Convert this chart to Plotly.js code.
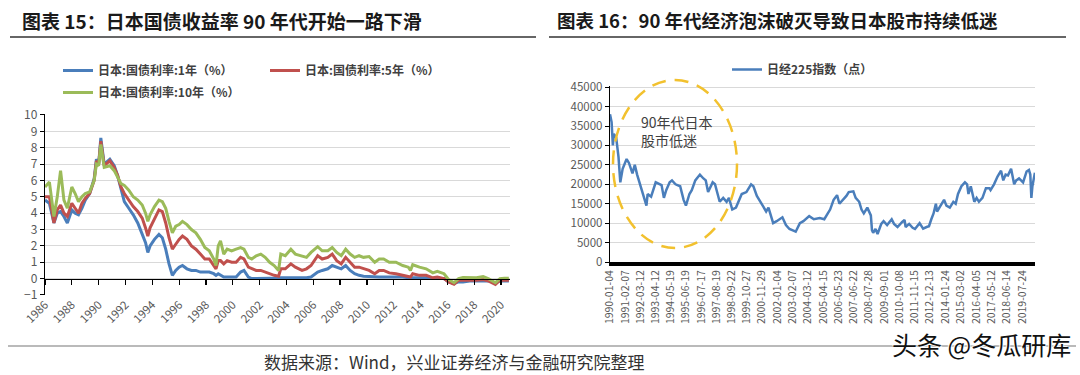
<!DOCTYPE html>
<html><head><meta charset="utf-8">
<script src="https://cdn.plot.ly/plotly-3.0.1.min.js"></script>
<style>html,body{margin:0;padding:0;background:#fff;} #chart{width:1080px;height:375px;}</style>
</head><body><div id="chart"></div>
<script>
// ---- Left chart: JGB yields (%) ----
const yieldDates = ['1986-01','1986-05','1986-09','1986-12','1987-03','1987-06','1987-09','1988-01','1988-04','1988-07','1988-10','1989-01','1989-05','1989-09','1989-11','1990-01','1990-03','1990-06','1990-11','1991-03','1991-06','1991-09','1991-12','1992-04','1992-08','1992-12','1993-04','1993-07','1993-09','1993-11','1994-03','1994-07','1994-10','1995-01','1995-04','1995-07','1995-10','1996-01','1996-04','1996-08','1996-12','1997-04','1997-08','1997-12','1998-04','1998-08','1998-10','1998-12','1999-02','1999-05','1999-08','1999-12','2000-04','2000-08','2000-11','2001-03','2001-06','2001-10','2002-02','2002-06','2002-10','2003-02','2003-06','2003-08','2003-12','2004-05','2004-09','2005-03','2005-07','2005-11','2006-05','2006-09','2007-02','2007-06','2007-10','2008-02','2008-06','2008-10','2009-02','2009-06','2009-10','2010-03','2010-08','2010-12','2011-04','2011-09','2012-03','2012-09','2013-02','2013-04','2013-06','2013-12','2014-06','2014-12','2015-04','2015-10','2016-02','2016-07','2016-11','2017-03','2017-09','2018-03','2018-09','2019-02','2019-08','2019-12','2020-04','2020-08'];
const jgb1y  = [4.8,4.6,3.4,4.0,4.1,3.8,3.4,4.2,4.0,3.9,4.3,4.8,5.2,6.1,7.3,7.0,8.6,7.0,7.3,6.9,6.3,5.4,4.7,4.3,3.9,3.4,2.7,2.2,1.6,2.0,2.4,2.7,2.5,1.8,0.9,0.2,0.5,0.7,0.8,0.6,0.5,0.5,0.4,0.4,0.4,0.3,0.2,0.3,0.2,0.1,0.1,0.1,0.1,0.4,0.5,0.1,0.0,0.0,0.02,0.02,0.02,0.02,0.01,0.05,0.05,0.05,0.05,0.05,0.05,0.1,0.4,0.5,0.6,0.8,0.7,0.6,0.8,0.5,0.3,0.2,0.15,0.12,0.1,0.1,0.1,0.1,0.1,0.1,0.05,0.05,0.05,0.05,0.05,0.0,0.0,0.0,-0.2,-0.3,-0.2,-0.2,-0.15,-0.15,-0.12,-0.15,-0.25,-0.15,-0.15,-0.15];
const jgb5y  = [5.0,5.0,3.4,4.2,4.5,4.0,3.8,4.6,4.3,4.0,4.6,4.9,5.2,6.0,7.2,7.0,8.4,6.9,7.2,6.8,6.3,5.6,5.2,4.8,4.4,4.1,3.7,3.1,2.6,3.1,3.7,4.2,4.1,3.4,2.5,1.8,2.1,2.4,2.6,2.4,2.0,1.8,1.5,1.2,1.2,0.8,0.6,1.1,1.1,0.9,1.1,1.0,1.0,1.3,1.2,0.7,0.6,0.5,0.5,0.4,0.3,0.2,0.15,0.6,0.6,0.9,0.7,0.5,0.6,0.8,1.4,1.2,1.3,1.5,1.1,0.9,1.3,1.0,0.7,0.7,0.6,0.5,0.3,0.5,0.5,0.35,0.3,0.2,0.15,0.1,0.3,0.2,0.2,0.05,0.1,0.0,-0.2,-0.35,-0.1,-0.1,-0.1,-0.1,-0.05,-0.15,-0.35,-0.1,-0.1,-0.1];
const jgb10y = [5.6,5.9,3.8,5.0,6.6,4.8,4.3,5.6,5.2,4.7,5.0,5.2,5.3,6.0,7.0,6.9,8.2,6.8,6.9,6.6,6.2,5.8,5.7,5.4,5.0,4.8,4.5,4.0,3.5,3.9,4.4,4.8,4.7,4.3,3.5,2.8,3.2,3.3,3.5,3.3,3.0,2.8,2.4,1.9,1.7,1.2,0.8,2.0,2.3,1.5,1.8,1.7,1.8,1.9,1.8,1.3,1.2,1.4,1.5,1.3,1.0,0.8,0.5,1.5,1.4,1.8,1.5,1.4,1.3,1.6,1.95,1.7,1.7,1.9,1.6,1.4,1.8,1.5,1.3,1.4,1.3,1.35,1.0,1.2,1.2,1.0,1.0,0.8,0.7,0.5,0.85,0.7,0.6,0.35,0.45,0.3,-0.05,-0.25,0.0,0.07,0.05,0.05,0.12,-0.02,-0.25,0.0,0.02,0.03];
const yieldNames = ['日本:国债利率:1年（%）','日本:国债利率:5年（%）','日本:国债利率:10年（%）'];
const yieldTicks = [-1,0,1,2,3,4,5,6,7,8,9,10];

// ---- Right chart: Nikkei 225 (points) ----
const nikkeiDates = ['1990-01-04','1990-02-15','1990-03-20','1990-04-15','1990-06-15','1990-08-15','1990-10-01','1990-12-01','1991-03-15','1991-05-15','1991-08-15','1991-10-15','1991-12-15','1992-03-15','1992-05-15','1992-08-15','1992-09-15','1992-12-15','1993-04-15','1993-07-15','1993-09-15','1993-11-15','1994-01-15','1994-04-15','1994-06-15','1994-09-15','1995-01-15','1995-04-15','1995-06-15','1995-09-15','1995-11-15','1996-02-15','1996-06-15','1996-09-15','1996-11-15','1997-01-15','1997-05-15','1997-07-15','1997-09-15','1997-11-15','1998-02-15','1998-05-15','1998-07-15','1998-10-10','1999-01-15','1999-06-15','1999-10-15','2000-02-15','2000-04-15','2000-07-15','2000-12-15','2001-03-15','2001-05-15','2001-09-15','2001-12-15','2002-05-15','2002-08-15','2002-11-15','2003-03-15','2003-04-28','2003-08-15','2003-11-15','2004-04-15','2004-08-15','2005-01-15','2005-05-15','2005-08-15','2005-10-15','2006-01-15','2006-04-15','2006-06-15','2006-09-15','2006-12-15','2007-02-15','2007-06-15','2007-08-15','2007-11-15','2008-01-15','2008-03-15','2008-06-15','2008-09-15','2008-10-15','2008-11-15','2009-01-15','2009-03-10','2009-06-15','2009-08-15','2009-11-15','2010-03-15','2010-05-15','2010-08-15','2010-12-15','2011-02-15','2011-03-15','2011-06-15','2011-09-15','2011-11-15','2012-03-15','2012-06-15','2012-09-15','2012-11-15','2013-01-15','2013-03-15','2013-05-15','2013-06-15','2013-09-15','2013-12-15','2014-02-15','2014-05-15','2014-08-15','2014-10-15','2014-12-15','2015-03-15','2015-06-15','2015-08-10','2015-09-15','2015-11-15','2016-02-15','2016-04-15','2016-06-15','2016-09-15','2016-12-15','2017-03-15','2017-04-15','2017-07-15','2017-10-15','2017-12-15','2018-01-15','2018-03-15','2018-05-15','2018-07-15','2018-09-15','2018-10-05','2018-12-25','2019-02-15','2019-05-01','2019-08-15','2019-11-15','2020-01-15','2020-02-20','2020-03-19','2020-04-15','2020-05-30','2020-06-20'];
const nikkei = [38000,36000,30000,33000,32000,27000,20500,24000,26500,25500,22800,25000,22500,19500,17500,14500,17500,16800,20500,20000,19800,16500,18500,20500,21000,20000,19500,16000,14500,17500,18500,21000,22500,21500,21000,18000,20500,20000,18000,15500,16500,15500,16500,13500,14000,17500,18000,20000,19500,17000,14500,13000,14000,10000,10500,11500,9500,8500,8000,7800,10000,10500,11800,11000,11300,11000,12500,13500,16000,17200,15000,16000,17000,18000,18200,16500,15500,13500,12500,14000,12000,8200,7500,8500,7200,9800,10500,9500,11000,9800,9000,10300,10800,9000,9800,8800,8500,10000,8600,9000,9200,11000,12500,15000,13000,14500,16000,14500,14000,15500,15000,17500,19500,20500,20000,17500,19500,15500,16500,15500,16500,19000,19000,18500,20000,22000,22800,23500,21000,22500,22300,23500,24000,20000,21000,21500,20500,23300,23700,22500,16500,19500,22000,23000];
const nikkeiTickLabels = ['1990-01-04','1991-02-07','1992-03-12','1993-04-12','1994-05-19','1995-06-19','1996-07-17','1997-08-19','1998-09-22','1999-10-27','2000-11-29','2002-01-04','2003-02-07','2004-03-12','2005-04-15','2006-05-23','2007-06-22','2008-07-28','2009-09-01','2010-10-08','2011-11-15','2012-12-13','2014-01-24','2015-03-02','2016-04-05','2017-05-12','2018-06-14','2019-07-24'];
const nikkeiName = '日经225指数（点）';

const W = 1080, H = 375;
const px = x => x / W;
const py = y => 1 - y / H;
const CJK = '"Noto Sans CJK SC", "Noto Sans", sans-serif';
const grid = '#D9D9D9';
const colors = {blue: '#4A7EBB', red: '#C0504D', green: '#9BBB59', nk: '#4A7EBB'};

const traces = [
  {x: yieldDates, y: jgb1y, name: yieldNames[0], type: 'scatter', mode: 'lines', line: {color: colors.blue, width: 3}, xaxis: 'x', yaxis: 'y', legend: 'legend', showlegend: true},
  {x: yieldDates, y: jgb5y, name: yieldNames[1], type: 'scatter', mode: 'lines', line: {color: colors.red, width: 3}, xaxis: 'x', yaxis: 'y', legend: 'legend', showlegend: true},
  {x: yieldDates, y: jgb10y, name: yieldNames[2], type: 'scatter', mode: 'lines', line: {color: colors.green, width: 3}, xaxis: 'x3', yaxis: 'y', legend: 'legend3', showlegend: true},
  {x: nikkeiDates, y: nikkei, name: nikkeiName, type: 'scatter', mode: 'lines', line: {color: colors.nk, width: 2.5}, xaxis: 'x2', yaxis: 'y2', legend: 'legend2', showlegend: true}
];

const legendFont = {family: CJK, size: 12, color: '#404040', weight: 'bold'};
// y = 10 sits at pixel 115, y = -1 at 295
const yTopPx = 115 - 0.06 * (180 / 11);

const layout = {
  width: W, height: H,
  margin: {l: 0, r: 0, t: 0, b: 0},
  paper_bgcolor: '#fff', plot_bgcolor: '#fff',
  showlegend: true,
  xaxis: {
    domain: [px(45), px(510)], anchor: 'y', type: 'date',
    range: ['1986-01-01', '2020-09-01'],
    tick0: '1986-01-01', dtick: 'M24', tickformat: '%Y', tickangle: -45,
    showline: false, ticks: '', showgrid: false, zeroline: false,
    tickfont: {family: CJK, size: 11.5, color: '#595959'}
  },
  xaxis3: {
    domain: [px(45), px(510)], anchor: 'free', position: py(279), overlaying: 'x', matches: 'x',
    type: 'date', tick0: '1986-01-01', dtick: 'M24',
    showline: true, linecolor: '#000', linewidth: 1.2,
    ticks: 'outside', ticklen: 5, tickcolor: '#000', tickwidth: 1.2,
    showticklabels: false, showgrid: false, zeroline: false
  },
  yaxis: {
    domain: [py(295), py(yTopPx)], anchor: 'x', range: [-1.001, 10.06],
    tickmode: 'array', tickvals: yieldTicks, ticklabeloverflow: 'allow',
    showgrid: true, gridcolor: grid, gridwidth: 1, zeroline: false,
    showline: true, linecolor: '#000', linewidth: 1.2,
    ticks: 'outside', ticklen: 4, tickcolor: '#000',
    tickfont: {family: CJK, size: 12, color: '#595959'}
  },
  xaxis2: {
    domain: [px(610), px(1035)], anchor: 'y2', type: 'date',
    range: ['1990-01-04', '2020-06-22'],
    tickmode: 'array', tickvals: nikkeiTickLabels, ticktext: nikkeiTickLabels, tickangle: -90,
    showline: true, linecolor: '#000', linewidth: 4, ticks: '', showgrid: false, zeroline: false,
    tickfont: {family: CJK, size: 10.5, color: '#595959'}
  },
  yaxis2: {
    domain: [py(262), py(86)], anchor: 'x2', range: [0, 45300], tick0: 0, dtick: 5000, tickformat: 'd',
    ticklabeloverflow: 'allow',
    showgrid: true, gridcolor: grid, gridwidth: 1, zeroline: false,
    showline: true, linecolor: '#000', linewidth: 1.2,
    ticks: 'outside', ticklen: 4, tickcolor: '#000',
    tickfont: {family: CJK, size: 11.5, color: '#595959'}
  },
  legend: {
    orientation: 'h', x: px(58), y: py(56), xanchor: 'left', yanchor: 'top',
    font: legendFont, itemwidth: 30, entrywidth: 162, entrywidthmode: 'pixels',
    bgcolor: 'rgba(0,0,0,0)'
  },
  legend3: {
    orientation: 'h', x: px(58), y: py(78), xanchor: 'left', yanchor: 'top',
    font: legendFont, itemwidth: 30, bgcolor: 'rgba(0,0,0,0)'
  },
  legend2: {
    orientation: 'h', x: px(727), y: py(55), xanchor: 'left', yanchor: 'top',
    font: legendFont, itemwidth: 30, bgcolor: 'rgba(0,0,0,0)'
  },
  shapes: [
    {type: 'line', xref: 'paper', yref: 'paper', x0: px(10), x1: px(536), y0: py(37), y1: py(37), line: {color: '#333', width: 1.5}},
    {type: 'line', xref: 'paper', yref: 'paper', x0: px(549), x1: px(1066), y0: py(37), y1: py(37), line: {color: '#333', width: 1.5}},
    {type: 'line', xref: 'paper', yref: 'paper', x0: px(8), x1: px(1076), y0: py(346), y1: py(346), line: {color: '#777', width: 1.2}},
    {type: 'circle', xref: 'paper', yref: 'paper', x0: px(613), x1: px(737), y0: py(248), y1: py(80), line: {color: '#F2C12E', width: 2.5, dash: '14px,9px'}}
  ],
  annotations: [
    {xref: 'paper', yref: 'paper', x: px(20), y: py(20), xanchor: 'left', yanchor: 'middle', showarrow: false,
     text: '图表 15：日本国债收益率 90 年代开始一路下滑', font: {family: CJK, size: 19, color: '#1a1a1a', weight: 'bold'}},
    {xref: 'paper', yref: 'paper', x: px(555), y: py(20), xanchor: 'left', yanchor: 'middle', showarrow: false,
     text: '图表 16：90 年代经济泡沫破灭导致日本股市持续低迷', font: {family: CJK, size: 18.5, color: '#1a1a1a', weight: 'bold'}},
    {xref: 'paper', yref: 'paper', x: px(639), y: py(131), xanchor: 'left', yanchor: 'middle', showarrow: false, align: 'left',
     text: '90年代日本<br>股市低迷', font: {family: CJK, size: 14, color: '#404040'}},
    {xref: 'paper', yref: 'paper', x: px(262), y: py(361), xanchor: 'left', yanchor: 'middle', showarrow: false,
     text: '数据来源：Wind，兴业证券经济与金融研究院整理', font: {family: CJK, size: 17, color: '#333'}},
    {xref: 'paper', yref: 'paper', x: px(1073), y: py(344), xanchor: 'right', yanchor: 'middle', showarrow: false,
     text: '头条 @冬瓜研库', bgcolor: 'rgba(0,0,0,0)', font: {family: CJK, size: 25, color: '#111', shadow: '1px 1px 1px #fff, -1px -1px 1px #fff'}}
  ]
};

Plotly.newPlot('chart', traces, layout, {displayModeBar: false, staticPlot: true});
</script>
</body></html>
